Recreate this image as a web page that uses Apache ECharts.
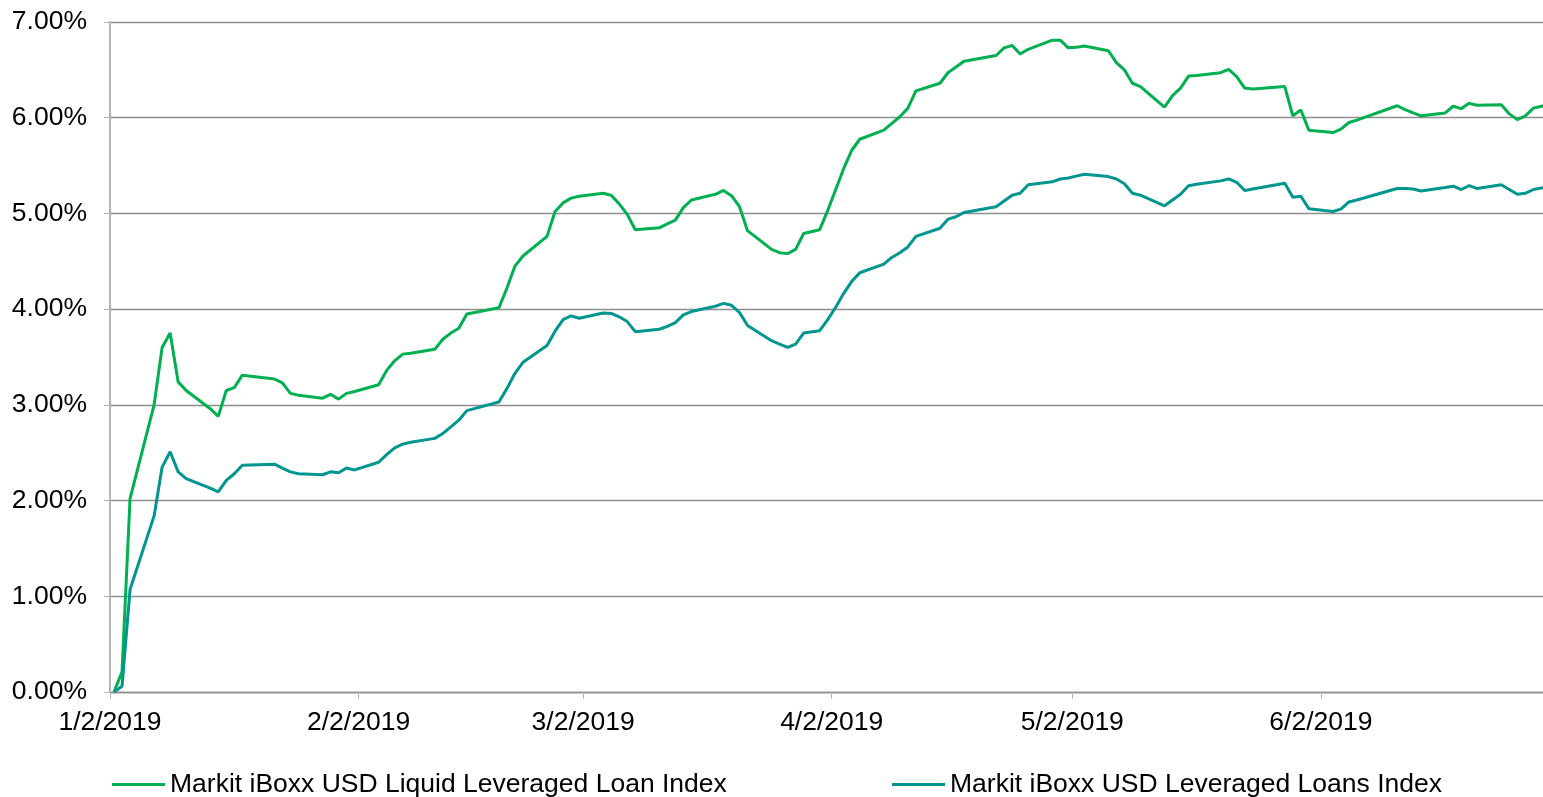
<!DOCTYPE html>
<html>
<head>
<meta charset="utf-8">
<title>Markit iBoxx USD leveraged loan indices, 2019 YTD</title>
<script src="https://cdn.jsdelivr.net/npm/echarts@6.0.0/dist/echarts.min.js"></script>
<style>
  html, body { margin: 0; padding: 0; background: #fff; }
  #chart { width: 1543px; height: 797px; }
</style>
</head>
<body>
<div id="chart"></div>
<script>
// business days (holidays skipped, month-end weekends kept)
const dates = [
  '2019-01-02', '2019-01-03', '2019-01-04', '2019-01-07', '2019-01-08', '2019-01-09', '2019-01-10', '2019-01-11',
  '2019-01-14', '2019-01-15', '2019-01-16', '2019-01-17', '2019-01-18', '2019-01-22', '2019-01-23', '2019-01-24',
  '2019-01-25', '2019-01-28', '2019-01-29', '2019-01-30', '2019-01-31', '2019-02-01', '2019-02-04', '2019-02-05',
  '2019-02-06', '2019-02-07', '2019-02-08', '2019-02-11', '2019-02-12', '2019-02-13', '2019-02-14', '2019-02-15',
  '2019-02-19', '2019-02-20', '2019-02-21', '2019-02-22', '2019-02-25', '2019-02-26', '2019-02-27', '2019-02-28',
  '2019-03-01', '2019-03-04', '2019-03-05', '2019-03-06', '2019-03-07', '2019-03-08', '2019-03-11', '2019-03-12',
  '2019-03-13', '2019-03-14', '2019-03-15', '2019-03-18', '2019-03-19', '2019-03-20', '2019-03-21', '2019-03-22',
  '2019-03-25', '2019-03-26', '2019-03-27', '2019-03-28', '2019-03-29', '2019-03-31', '2019-04-01', '2019-04-02',
  '2019-04-03', '2019-04-04', '2019-04-05', '2019-04-08', '2019-04-09', '2019-04-10', '2019-04-11', '2019-04-12',
  '2019-04-15', '2019-04-16', '2019-04-17', '2019-04-18', '2019-04-22', '2019-04-23', '2019-04-24', '2019-04-25',
  '2019-04-26', '2019-04-29', '2019-04-30', '2019-05-01', '2019-05-02', '2019-05-03', '2019-05-06', '2019-05-07',
  '2019-05-08', '2019-05-09', '2019-05-10', '2019-05-13', '2019-05-14', '2019-05-15', '2019-05-16', '2019-05-17',
  '2019-05-20', '2019-05-21', '2019-05-22', '2019-05-23', '2019-05-24', '2019-05-28', '2019-05-29', '2019-05-30',
  '2019-05-31', '2019-06-03', '2019-06-04', '2019-06-05', '2019-06-06', '2019-06-11', '2019-06-12', '2019-06-13',
  '2019-06-14', '2019-06-17', '2019-06-18', '2019-06-19', '2019-06-20', '2019-06-21', '2019-06-24', '2019-06-25',
  '2019-06-26', '2019-06-27', '2019-06-28', '2019-06-30'
];

// total return since 1/2/2019, %
const liquidLoanReturn = [
  0.00, 0.21, 2.02, 3.00, 3.60, 3.75, 3.24, 3.15,
  2.96, 2.88, 3.15, 3.18, 3.31, 3.27, 3.23, 3.12,
  3.10, 3.07, 3.11, 3.06, 3.12, 3.14, 3.21, 3.36,
  3.46, 3.53, 3.54, 3.58, 3.685, 3.75, 3.80, 3.95,
  4.015, 4.22, 4.45, 4.555, 4.76, 5.02, 5.11, 5.16,
  5.18, 5.21, 5.19, 5.10, 4.99, 4.83, 4.85, 4.89,
  4.93, 5.06, 5.14, 5.20, 5.24, 5.185, 5.07, 4.82,
  4.625, 4.59, 4.58, 4.625, 4.79, 4.83, 5.03, 5.25,
  5.47, 5.66, 5.775, 5.87, 5.94, 6.01, 6.10, 6.28,
  6.36, 6.47, 6.53, 6.59, 6.65, 6.73, 6.755, 6.665,
  6.715, 6.81, 6.81, 6.73, 6.735, 6.75, 6.70, 6.575,
  6.50, 6.36, 6.325, 6.11, 6.23, 6.31, 6.435, 6.44,
  6.47, 6.505, 6.43, 6.31, 6.30, 6.325, 6.02, 6.08,
  5.87, 5.845, 5.88, 5.95, 5.975, 6.125, 6.085, 6.05,
  6.02, 6.05, 6.12, 6.095, 6.15, 6.13, 6.135, 6.04,
  5.98, 6.02, 6.10, 6.14
];

const leveragedLoansReturn = [
  0.00, 0.06, 1.07, 1.84, 2.35, 2.51, 2.30, 2.23,
  2.13, 2.09, 2.21, 2.28, 2.37, 2.38, 2.34, 2.30,
  2.28, 2.27, 2.30, 2.29, 2.34, 2.32, 2.40, 2.48,
  2.55, 2.59, 2.61, 2.65, 2.70, 2.77, 2.84, 2.94,
  3.03, 3.17, 3.33, 3.445, 3.62, 3.77, 3.89, 3.93,
  3.905, 3.96, 3.955, 3.92, 3.87, 3.765, 3.79, 3.82,
  3.86, 3.94, 3.975, 4.03, 4.06, 4.04, 3.965, 3.83,
  3.67, 3.635, 3.60, 3.635, 3.75, 3.775, 3.89, 4.02,
  4.165, 4.29, 4.38, 4.47, 4.54, 4.59, 4.65, 4.76,
  4.845, 4.94, 4.965, 5.01, 5.07, 5.13, 5.19, 5.21,
  5.30, 5.33, 5.36, 5.37, 5.39, 5.41, 5.385, 5.36,
  5.31, 5.21, 5.19, 5.08, 5.14, 5.20, 5.29, 5.305,
  5.34, 5.36, 5.325, 5.24, 5.255, 5.315, 5.17, 5.18,
  5.05, 5.02, 5.045, 5.12, 5.14, 5.26, 5.26, 5.255,
  5.235, 5.27, 5.285, 5.25, 5.29, 5.26, 5.30, 5.25,
  5.20, 5.21, 5.25, 5.28
];

const seriesNames = ['Markit iBoxx USD Liquid Leveraged Loan Index', 'Markit iBoxx USD Leveraged Loans Index'];
const seriesColors = ['#00b050', '#00968f'];
const tickDates = ['2019-01-02', '2019-02-02', '2019-03-02', '2019-04-02', '2019-05-02', '2019-06-02'];

const DAY = 86400000;
const FONT = 'Liberation Sans, Arial, sans-serif';
const FONT_SIZE = 26.5;
const START = '2019-01-02';

function toDate(s) {
  const [y, m, d] = s.split('-').map(Number);
  return new Date(Date.UTC(y, m - 1, d));
}

// x is measured in days since 1/2/2019
function dayIndex(s) {
  return Math.round((toDate(s) - toDate(START)) / DAY);
}

function dayLabel(v) {
  const d = new Date(toDate(START).getTime() + Math.round(v) * DAY);
  return `${d.getUTCMonth() + 1}/${d.getUTCDate()}/${d.getUTCFullYear()}`;
}

// Excel date axis puts each point in the middle of its day slot
const liquidData = dates.map((d, i) => [dayIndex(d) + 0.5, liquidLoanReturn[i]]);
const leveragedData = dates.map((d, i) => [dayIndex(d) + 0.5, leveragedLoansReturn[i]]);
const tickValues = tickDates.map(dayIndex);

const legendBase = {
  top: 771,
  padding: 0,
  icon: 'rect',
  itemWidth: 53,
  itemHeight: 3,
  textStyle: { fontSize: FONT_SIZE, color: '#000', fontFamily: FONT }
};

const chart = echarts.init(document.getElementById('chart'));

chart.setOption({
  animation: false,
  backgroundColor: '#ffffff',
  textStyle: { fontFamily: FONT },
  grid: { left: 110, right: 0, top: 22, bottom: 105, containLabel: false },
  legend: [
    { ...legendBase, data: [seriesNames[0]], left: 112 },
    { ...legendBase, data: [seriesNames[1]], left: 892 }
  ],
  xAxis: {
    type: 'value',
    min: 0,
    max: 178.7,
    axisLine: { onZero: false, lineStyle: { color: '#8e8e8e', width: 1.3 } },
    axisTick: { show: true, customValues: tickValues, length: 7, lineStyle: { color: '#b4b4b4', width: 1 } },
    axisLabel: {
      customValues: tickValues,
      color: '#000',
      fontSize: FONT_SIZE,
      fontFamily: FONT,
      margin: 17,
      formatter: dayLabel
    },
    splitLine: { show: false }
  },
  yAxis: {
    type: 'value',
    min: 0,
    max: 7,
    interval: 1,
    axisLine: { show: true, lineStyle: { color: '#b4b4b4', width: 2 } },
    axisTick: { show: true, length: 6, lineStyle: { color: '#b4b4b4' } },
    axisLabel: {
      color: '#000',
      fontSize: FONT_SIZE,
      fontFamily: FONT,
      margin: 23,
      formatter: v => v.toFixed(2) + '%'
    },
    splitLine: { lineStyle: { color: '#8e8e8e', width: 1.3 } }
  },
  series: [
    {
      name: seriesNames[0],
      type: 'line',
      data: liquidData,
      symbol: 'none',
      clip: true,
      lineStyle: { color: seriesColors[0], width: 3 },
      itemStyle: { color: seriesColors[0] }
    },
    {
      name: seriesNames[1],
      type: 'line',
      data: leveragedData,
      symbol: 'none',
      clip: true,
      lineStyle: { color: seriesColors[1], width: 3 },
      itemStyle: { color: seriesColors[1] }
    }
  ]
});
</script>
</body>
</html>
